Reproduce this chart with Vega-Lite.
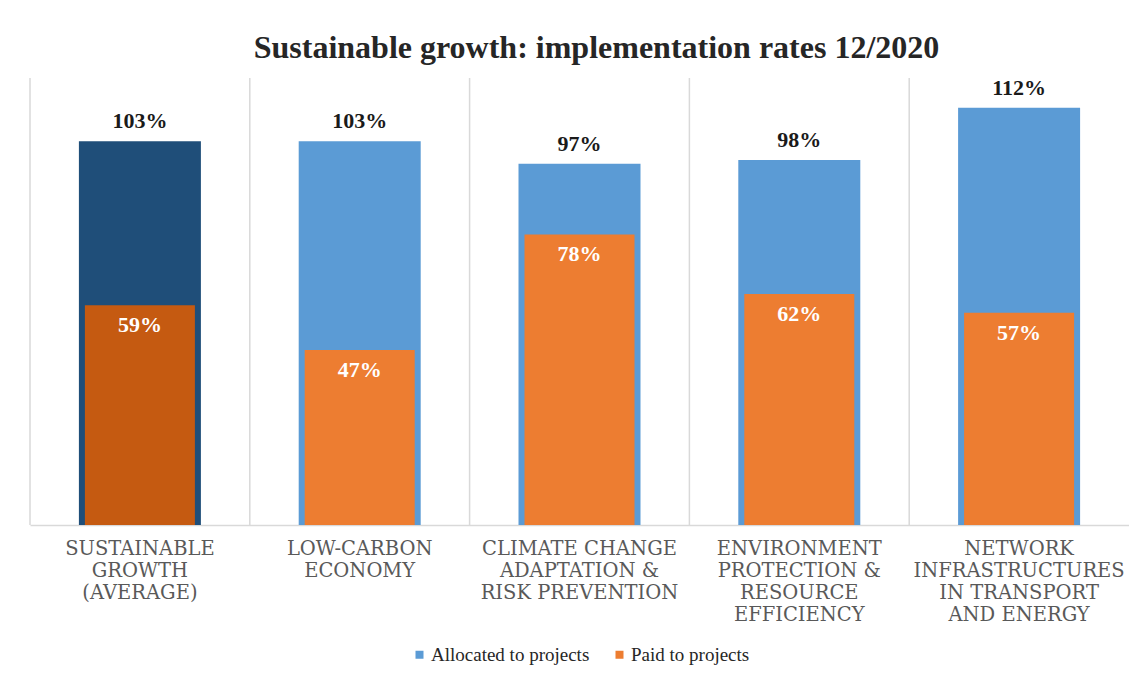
{
  "$schema": "https://vega.github.io/schema/vega-lite/v6.json",
  "autosize": {"type": "none"},
  "padding": {"left": 30, "top": 78, "right": 0, "bottom": 150},
  "width": 1099,
  "height": 447,
  "background": "white",
  "config": {"view": {"stroke": null}},
  "title": {
    "text": "Sustainable growth: implementation rates 12/2020",
    "font": "Liberation Serif",
    "fontSize": 32,
    "fontWeight": "bold",
    "color": "#262626",
    "anchor": "middle",
    "dx": 17,
    "offset": 12
  },
  "data": {
    "values": [
      {"cat": "SUSTAINABLE|GROWTH|(AVERAGE)", "allocated": 1.03, "paid": 0.59},
      {"cat": "LOW-CARBON|ECONOMY", "allocated": 1.03, "paid": 0.47},
      {"cat": "CLIMATE CHANGE|ADAPTATION &|RISK PREVENTION", "allocated": 0.97, "paid": 0.78},
      {"cat": "ENVIRONMENT|PROTECTION &|RESOURCE|EFFICIENCY", "allocated": 0.98, "paid": 0.62},
      {"cat": "NETWORK|INFRASTRUCTURES|IN TRANSPORT|AND ENERGY", "allocated": 1.12, "paid": 0.57}
    ]
  },
  "encoding": {
    "x": {
      "field": "cat",
      "type": "nominal",
      "sort": null,
      "scale": {"paddingInner": 0, "paddingOuter": 0},
      "axis": {
        "title": null,
        "labelExpr": "split(datum.label, '|')",
        "labelAngle": 0,
        "labelFont": "DejaVu Serif",
        "labelFontSize": 19.5,
        "labelLineHeight": 22,
        "labelColor": "#595959",
        "labelPadding": 14,
        "labelBaseline": "top",
        "labelLimit": 400,
        "ticks": false,
        "grid": false,
        "domainColor": "#D9D9D9",
        "domainWidth": 1.5
      }
    }
  },
  "layer": [
    {
      "mark": {"type": "rule", "color": "#D9D9D9", "strokeWidth": 1.5},
      "encoding": {
        "x": {"field": "cat", "type": "nominal", "sort": null, "bandPosition": 0}
      }
    },
    {
      "mark": {"type": "bar", "size": 122},
      "encoding": {
        "y": {
          "field": "allocated",
          "type": "quantitative",
          "scale": {"domain": [0, 1.2], "nice": false},
          "axis": null
        },
        "color": {
          "condition": {"test": "datum.cat === 'SUSTAINABLE|GROWTH|(AVERAGE)'", "value": "#1F4E79"},
          "datum": "Allocated to projects",
          "scale": {
            "domain": ["Allocated to projects", "Paid to projects"],
            "range": ["#5B9BD5", "#ED7D31"]
          },
          "legend": {
            "title": null,
            "orient": "none",
            "direction": "horizontal",
            "legendX": 380,
            "legendY": 567,
            "symbolType": "square",
            "symbolSize": 64,
            "symbolStrokeWidth": 0,
            "labelFont": "Liberation Serif",
            "labelFontSize": 19,
            "labelColor": "#262626",
            "labelOffset": 2,
            "columnPadding": 20
          }
        }
      }
    },
    {
      "mark": {"type": "bar", "size": 110},
      "encoding": {
        "y": {"field": "paid", "type": "quantitative"},
        "color": {
          "condition": {"test": "datum.cat === 'SUSTAINABLE|GROWTH|(AVERAGE)'", "value": "#C55A11"},
          "datum": "Paid to projects"
        }
      }
    },
    {
      "mark": {
        "type": "text",
        "dy": -20,
        "baseline": "middle",
        "font": "Liberation Serif",
        "fontSize": 22,
        "fontWeight": "bold",
        "color": "#1a1a1a"
      },
      "encoding": {
        "y": {"field": "allocated", "type": "quantitative"},
        "text": {"field": "allocated", "type": "quantitative", "format": ".0%"}
      }
    },
    {
      "mark": {
        "type": "text",
        "dy": 20,
        "baseline": "middle",
        "font": "Liberation Serif",
        "fontSize": 22,
        "fontWeight": "bold",
        "color": "white"
      },
      "encoding": {
        "y": {"field": "paid", "type": "quantitative"},
        "text": {"field": "paid", "type": "quantitative", "format": ".0%"}
      }
    }
  ]
}
